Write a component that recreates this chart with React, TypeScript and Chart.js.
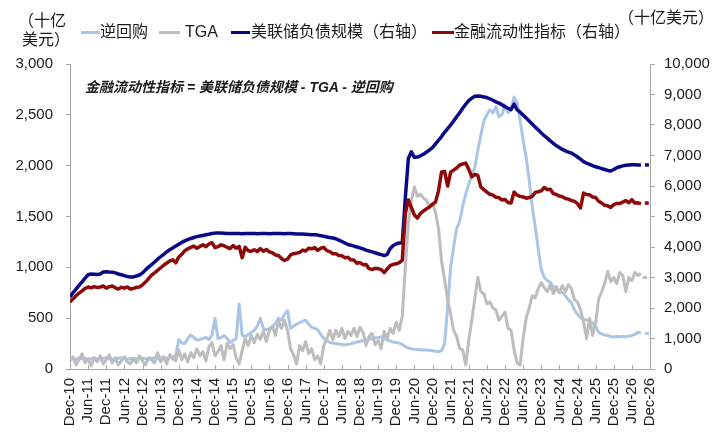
import { useEffect, useRef } from "react";
import { Chart, registerables } from "chart.js";

Chart.register(...registerables);

// 半年一个刻度，x 轴按月份编号（0 = Dec-10）
const xLabels = [
  "Dec-10", "Jun-11", "Dec-11", "Jun-12", "Dec-12", "Jun-13", "Dec-13", "Jun-14", "Dec-14",
  "Jun-15", "Dec-15", "Jun-16", "Dec-16", "Jun-17", "Dec-17", "Jun-18", "Dec-18", "Jun-19",
  "Dec-19", "Jun-20", "Dec-20", "Jun-21", "Dec-21", "Jun-22", "Dec-22", "Jun-23", "Dec-23",
  "Jun-24", "Dec-24", "Jun-25", "Dec-25", "Jun-26", "Dec-26",
];

const leftTicks = [0, 500, 1000, 1500, 2000, 2500, 3000];
const rightTicks = [0, 1000, 2000, 3000, 4000, 5000, 6000, 7000, 8000, 9000, 10000];

// 逆回购（左轴，十亿美元），月度
const rrp = [
  90, 100, 95, 110, 100, 105, 95, 100, 110, 100, 95, 105, 110, 100, 95, 100, 105, 110, 100, 95,
  100, 105, 100, 110, 105, 100, 95, 105, 110, 100, 110, 115, 105, 110, 120, 130, 290, 255, 250, 300,
  335, 310, 285, 290, 300, 310, 290, 330, 500, 300, 310, 330, 300, 260, 280, 300, 640, 330, 320, 340,
  360, 380, 420, 500, 400, 385, 400, 415, 450, 500, 480, 540, 575, 400, 420, 440, 455, 470, 480, 440,
  410, 400, 385, 340, 300, 280, 260, 255, 250, 245, 240, 236, 240, 250, 255, 265, 270, 280, 285, 290,
  300, 305, 310, 315, 300, 285, 275, 265, 260, 255, 240, 220, 206, 200, 195, 192, 190, 188, 187, 185,
  180, 175, 170, 180, 250, 600, 1000, 1200, 1380, 1450, 1600, 1720, 1820, 1900, 1980, 2150, 2300, 2440, 2500, 2550,
  2520, 2580, 2480, 2500, 2600, 2520, 2560, 2675, 2620, 2450, 2250, 2080, 1860, 1600, 1400, 1180, 980, 900, 870, 850,
  810, 780, 760, 750, 720, 680, 650, 580, 540, 505, 490, 480, 470, 455, 420, 360, 345, 335, 330, 320,
  315, 320, 318, 322, 318, 325, 330, 340, 362, 355, 350, 350, 350,
];

// TGA（左轴）
const tga = [
  80, 120, 40, 90, 150, 60, 100, 30, 110, 70, 130, 50, 90, 140, 60, 110, 40, 80, 120, 70,
  50, 100, 60, 130, 80, 40, 110, 90, 60, 160, 70, 120, 50, 140, 100, 80, 190, 90, 150, 70,
  160, 110, 200, 130, 170, 80, 220, 260, 130, 170, 230, 90, 250, 200, 240, 110, 50, 180, 300, 230,
  330, 260, 340, 290, 370, 270, 380, 420, 330, 470, 400, 480, 380, 200, 140, 50, 230, 180, 270, 150,
  200, 90, 130, 50, 230, 300, 380, 290, 380, 320, 400, 300, 370, 330, 400, 320, 410, 360, 230, 320,
  350, 240, 280, 200, 370, 300, 400, 350, 460, 380, 520, 1000, 1440, 1660, 1790, 1700, 1720, 1680, 1660, 1600,
  1630, 1540, 1380, 1060, 880, 680, 540, 380, 320, 200, 190, 40, 280, 480, 690, 900, 760, 740, 640, 660,
  600, 580, 480, 520, 560, 400, 380, 190, 60, 40, 300, 500, 600, 720, 700, 790, 850, 800, 760, 830,
  740, 810, 750, 820, 760, 830, 790, 680, 660, 580, 460, 300, 500, 330, 450, 690, 760, 840, 960, 860,
  900, 840, 950, 920, 760, 900, 870, 950, 920, 940, 900, 900, 900,
];

// 美联储负债规模（右轴）
const fedLiab = [
  2360, 2500, 2620, 2740, 2860, 2980, 3090, 3115, 3110, 3100, 3115, 3180, 3190, 3180, 3175, 3150, 3115, 3090, 3060, 3030,
  3016, 3020, 3050, 3082, 3150, 3250, 3340, 3420, 3510, 3600, 3680, 3760, 3840, 3910, 3970, 4030, 4090, 4150, 4200, 4240,
  4280, 4310, 4340, 4360, 4380, 4400, 4420, 4440, 4455, 4460, 4455, 4450, 4445, 4440, 4440, 4445, 4440, 4435, 4440, 4445,
  4440, 4440, 4435, 4440, 4445, 4440, 4435, 4440, 4440, 4445, 4440, 4435, 4440, 4440, 4435, 4430, 4426, 4423, 4420, 4412,
  4405, 4398, 4390, 4372, 4350, 4330, 4310, 4295, 4270, 4225, 4180, 4130, 4080, 4060, 4030, 4000, 3970, 3940, 3900, 3870,
  3840, 3810, 3780, 3750, 3720, 3760, 3950, 4050, 4100, 4130, 4140, 5600, 6900, 7120, 6940, 6950, 6990, 7040, 7110, 7180,
  7260, 7380, 7500, 7620, 7760, 7880, 8000, 8130, 8270, 8400, 8550, 8680, 8800, 8880, 8940, 8950, 8940, 8920, 8900, 8860,
  8810, 8760, 8720, 8660, 8600, 8550, 8500, 8690, 8500, 8420, 8330, 8230, 8130, 8030, 7930, 7840, 7740, 7650, 7570, 7480,
  7400, 7320, 7260, 7200, 7150, 7110, 7080, 7020, 6950, 6880, 6800, 6750, 6710, 6670, 6630, 6600, 6570, 6540, 6510, 6490,
  6540, 6600, 6630, 6660, 6680, 6690, 6700, 6695, 6690, 6690, 6690, 6690, 6690,
];

// 金融流动性指标（右轴）
const liquidity = [
  2197, 2300, 2400, 2490, 2560, 2640, 2690, 2660, 2700, 2670, 2690, 2720, 2650, 2700, 2720, 2660, 2620, 2680, 2650, 2690,
  2620, 2640, 2680, 2690, 2760, 2850, 2960, 3080, 3150, 3230, 3320, 3400, 3470, 3540, 3580, 3480, 3670, 3760, 3880, 3940,
  3990, 4030, 3960, 4020, 4070, 4010, 4100, 4140, 3980, 4010, 4070, 4040, 3990, 3950, 4050, 3960, 4020, 3650, 3990, 3880,
  3860, 3910, 3850, 3950, 3860, 3920, 3840, 3810, 3740, 3720, 3620, 3560, 3600, 3740, 3780, 3800, 3820, 3900, 3870, 3960,
  3940, 3980, 3890, 3960, 3990, 3880, 3850, 3780, 3780, 3720, 3710, 3650, 3660, 3580, 3570, 3470, 3490, 3420, 3430, 3290,
  3260, 3300, 3290, 3260, 3160, 3280, 3390, 3430, 3450, 3490, 3570, 5100, 5540, 5300, 5050, 4950, 5100, 5180, 5250, 5310,
  5400, 5470, 5850, 6460, 6480, 6000, 6450, 6520, 6590, 6690, 6720, 6750, 6550, 6300, 6380, 6350, 5970, 5880, 5800, 5730,
  5700, 5630, 5620, 5540, 5560, 5460, 5440, 5800, 5700, 5660, 5640, 5600, 5620, 5660, 5790, 5810, 5840, 5950, 5880, 5890,
  5750, 5720, 5670, 5650, 5590, 5570, 5520, 5500, 5420, 5280, 5770, 5720, 5710, 5640, 5620, 5500, 5440, 5370, 5350, 5300,
  5390, 5430, 5430, 5470, 5520, 5450, 5550, 5440, 5450, 5410, 5440, 5440, 5440,
];

const LAST_SOLID = 189; // 之后为虚线延伸
const AXIS_COLOR = "#a6a6a6";
const LATIN = '"Liberation Sans", Arial, "Noto Sans CJK SC", sans-serif';

const toPoints = (arr: number[]) => arr.map((y, i) => ({ x: i, y }));

const innerTicks = {
  id: "innerTicks",
  afterDraw(chart: any) {
    const xs = chart.scales.x;
    const { ctx, chartArea } = chart;
    ctx.save();
    ctx.strokeStyle = AXIS_COLOR;
    ctx.lineWidth = 1;
    xs.ticks.forEach((_: any, i: number) => {
      const px = Math.round(xs.getPixelForTick(i)) + 0.5;
      ctx.beginPath();
      ctx.moveTo(px, chartArea.bottom);
      ctx.lineTo(px, chartArea.bottom - 4);
      ctx.stroke();
    });
    ctx.restore();
  },
};

const legendItems = [
  { label: "逆回购", color: "#abc5e6", lineLeft: 81, lineW: 19, textLeft: 100 },
  { label: "TGA", color: "#bdbdbd", lineLeft: 159, lineW: 21, textLeft: 185 },
  { label: "美联储负债规模（右轴）", color: "#0a0a88", lineLeft: 231, lineW: 19, textLeft: 251 },
  { label: "金融流动性指标（右轴）", color: "#8c0a0a", lineLeft: 432, lineW: 22, textLeft: 454 },
];

const App = () => {
  const canvasRef = useRef<HTMLCanvasElement>(null);

  useEffect(() => {
    if (!canvasRef.current) return;

    const dashTail = {
      borderDash: (c: any) => (c.p0DataIndex >= LAST_SOLID ? [4, 4] : undefined),
      borderDashOffset: (c: any) => (c.p0DataIndex >= LAST_SOLID ? 4 : undefined),
    };

    const chart = new Chart(canvasRef.current, {
      type: "line",
      data: {
        datasets: [
          {
            label: "逆回购",
            data: toPoints(rrp),
            yAxisID: "yL",
            borderColor: "#abc5e6",
            borderWidth: 3,
            order: 3,
            segment: dashTail,
          },
          {
            label: "TGA",
            data: toPoints(tga),
            yAxisID: "yL",
            borderColor: "#bdbdbd",
            borderWidth: 3,
            order: 2,
            segment: dashTail,
          },
          {
            label: "美联储负债规模（右轴）",
            data: toPoints(fedLiab),
            yAxisID: "yR",
            borderColor: "#0a0a88",
            borderWidth: 3.5,
            order: 1,
            segment: dashTail,
          },
          {
            label: "金融流动性指标（右轴）",
            data: toPoints(liquidity),
            yAxisID: "yR",
            borderColor: "#8c0a0a",
            borderWidth: 3.5,
            order: 0,
            segment: dashTail,
          },
        ],
      },
      options: {
        animation: false,
        responsive: true,
        maintainAspectRatio: false,
        layout: { padding: { top: 64, left: 0, right: 0, bottom: 0 } },
        elements: {
          point: { radius: 0 },
          line: { tension: 0, borderJoinStyle: "round", borderCapStyle: "butt" },
        },
        plugins: {
          legend: { display: false },
          tooltip: { enabled: false },
        },
        scales: {
          x: {
            type: "linear",
            min: 0,
            max: 192,
            border: { display: true, color: AXIS_COLOR },
            grid: { display: true, drawOnChartArea: false, drawTicks: false },
            ticks: {
              stepSize: 6,
              maxTicksLimit: 40,
              autoSkip: false,
              minRotation: 90,
              maxRotation: 90,
              padding: 9,
              color: "#1a1a1a",
              font: { size: 15, family: LATIN },
              callback: (v: any) => xLabels[Math.round(Number(v) / 6)] ?? "",
            },
            afterFit: (s: any) => {
              s.height = 72;
            },
          },
          yL: {
            position: "left",
            min: leftTicks[0],
            max: leftTicks[leftTicks.length - 1],
            border: { display: true, color: AXIS_COLOR },
            grid: { drawOnChartArea: false, drawTicks: true, tickLength: 4, color: AXIS_COLOR },
            ticks: {
              stepSize: 500,
              padding: 13,
              color: "#1a1a1a",
              font: { size: 15, family: LATIN },
              callback: (v: any) => Number(v).toLocaleString("en-US"),
            },
            afterFit: (s: any) => {
              s.width = 70;
            },
          },
          yR: {
            position: "right",
            min: rightTicks[0],
            max: rightTicks[rightTicks.length - 1],
            border: { display: true, color: AXIS_COLOR },
            grid: { drawOnChartArea: false, drawTicks: true, tickLength: 5, color: AXIS_COLOR },
            ticks: {
              stepSize: 1000,
              padding: 9,
              color: "#1a1a1a",
              font: { size: 15, family: LATIN },
              callback: (v: any) => Number(v).toLocaleString("en-US"),
            },
            afterFit: (s: any) => {
              s.width = 69;
            },
          },
        },
      },
      plugins: [innerTicks],
    });

    return () => chart.destroy();
  }, []);

  return (
    <div
      style={{
        position: "fixed",
        left: 0,
        top: 0,
        width: 719,
        height: 441,
        background: "#fff",
        fontFamily: LATIN,
        color: "#1a1a1a",
      }}
    >
      <canvas ref={canvasRef} style={{ position: "absolute", left: 0, top: 0 }} />

      {/* 单位 */}
      <div style={{ position: "absolute", left: 18, top: 11, fontSize: 16, lineHeight: "19px" }}>（十亿</div>
      <div style={{ position: "absolute", left: 22, top: 30, fontSize: 16, lineHeight: "19px" }}>美元）</div>
      <div style={{ position: "absolute", left: 618, top: 8, fontSize: 16, lineHeight: "20px" }}>（十亿美元）</div>

      {/* 图例 */}
      {legendItems.map((it) => (
        <div key={it.label}>
          <div
            style={{
              position: "absolute",
              left: it.lineLeft,
              top: 31,
              width: it.lineW,
              height: 3,
              background: it.color,
            }}
          />
          <div
            style={{
              position: "absolute",
              left: it.textLeft,
              top: 22,
              fontSize: 16,
              lineHeight: "20px",
              whiteSpace: "nowrap",
            }}
          >
            {it.label}
          </div>
        </div>
      ))}

      {/* 公式注释 */}
      <div
        style={{
          position: "absolute",
          left: 85,
          top: 78,
          fontSize: 14,
          lineHeight: "18px",
          fontWeight: "bold",
          fontStyle: "italic",
          whiteSpace: "pre",
        }}
      >
        金融流动性指标 = 美联储负债规模 - TGA - 逆回购
      </div>
    </div>
  );
};

export default App;
